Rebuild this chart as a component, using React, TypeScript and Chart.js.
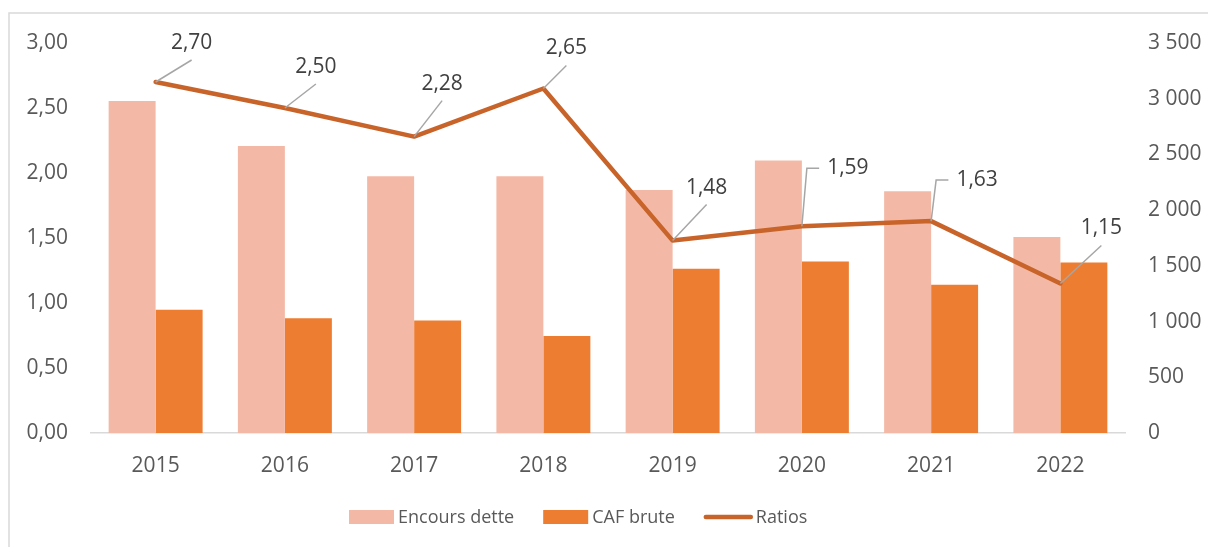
import React, { useEffect, useRef } from 'react';
import { Chart, registerables } from 'chart.js';

Chart.register(...registerables);

const YEARS = ['2015', '2016', '2017', '2018', '2019', '2020', '2021', '2022'];
const ENCOURS_DETTE = [2980, 2575, 2305, 2305, 2180, 2445, 2170, 1760];
const CAF_BRUTE = [1105, 1030, 1010, 870, 1475, 1540, 1330, 1530];
const RATIOS = [2.7, 2.5, 2.28, 2.65, 1.48, 1.59, 1.63, 1.15];

const LEFT_MAX = 3;
const LEFT_STEP = 0.5;
const RIGHT_MAX = 3500;
const RIGHT_STEP = 500;

const SERIES_NAMES = ['Encours dette', 'CAF brute', 'Ratios'];

// label centre offsets relative to each ratio point, and callout style
const LABEL_OFFSETS: [number, number][] = [
  [36, -39], [31, -41], [28, -53], [23, -40], [34, -53], [46, -58], [46, -41], [41, -55],
];
const LABEL_ELBOW = [false, false, false, false, false, true, true, false];

const COLOR_DETTE = '#f4b9a6';
const COLOR_CAF = '#ed7d31';
const COLOR_LINE = '#c8642a';
const TEXT = '#595959';
const FONT = "'Open Sans', sans-serif";

const fmtLeft = (v: number) => v.toFixed(2).replace('.', ',');
const fmtRight = (v: number) => {
  const s = Math.round(v).toString();
  return s.replace(/\B(?=(\d{3})+(?!\d))/g, ' ');
};

const framePlugin = {
  id: 'frame',
  beforeDraw(chart: any) {
    const ctx = chart.ctx;
    ctx.save();
    ctx.strokeStyle = '#d9d9d9';
    ctx.lineWidth = 1.5;
    ctx.beginPath();
    ctx.moveTo(9, 600);
    ctx.lineTo(9, 13);
    ctx.lineTo(1300, 13);
    ctx.stroke();
    ctx.restore();
  },
};

const labelsPlugin = {
  id: 'ratioLabels',
  afterDatasetsDraw(chart: any) {
    const ctx = chart.ctx;
    const meta = chart.getDatasetMeta(2);
    ctx.save();
    ctx.font = `21px ${FONT}`;
    ctx.textAlign = 'center';
    ctx.textBaseline = 'middle';
    meta.data.forEach((pt: any, i: number) => {
      const [dx, dy] = LABEL_OFFSETS[i];
      const lx = pt.x + dx;
      const ly = pt.y + dy;
      const text = fmtLeft(RATIOS[i]);
      const w = ctx.measureText(text).width;
      ctx.strokeStyle = '#a6a6a6';
      ctx.lineWidth = 1.5;
      ctx.beginPath();
      if (LABEL_ELBOW[i]) {
        const left = lx - w / 2;
        ctx.moveTo(pt.x, pt.y);
        ctx.lineTo(pt.x + 5, ly);
        ctx.lineTo(left - 8, ly);
      } else {
        ctx.moveTo(pt.x, pt.y);
        ctx.lineTo(lx, ly + 17);
      }
      ctx.stroke();
      ctx.fillStyle = '#404040';
      ctx.fillText(text, lx, ly);
    });
    ctx.restore();
  },
};

const legendPlugin = {
  id: 'customLegend',
  afterDraw(chart: any) {
    const ctx = chart.ctx;
    ctx.save();
    ctx.font = `18px ${FONT}`;
    ctx.textBaseline = 'middle';
    ctx.textAlign = 'left';
    const cy = 517;
    let x = 349;
    const colors = [COLOR_DETTE, COLOR_CAF, COLOR_LINE];
    SERIES_NAMES.forEach((name, i) => {
      if (i < 2) {
        ctx.fillStyle = colors[i];
        ctx.fillRect(x, cy - 7, 45, 14);
        x += 49;
      } else {
        ctx.strokeStyle = colors[i];
        ctx.lineWidth = 4.5;
        ctx.lineCap = 'round';
        ctx.beginPath();
        ctx.moveTo(x + 2, cy);
        ctx.lineTo(x + 47, cy);
        ctx.stroke();
        x += 52;
      }
      ctx.fillStyle = TEXT;
      ctx.fillText(name, x, cy + 1);
      x += ctx.measureText(name).width + 29;
    });
    ctx.restore();
  },
};

export default function App() {
  const ref = useRef<HTMLCanvasElement | null>(null);

  useEffect(() => {
    if (!ref.current) return;
    Chart.defaults.font.family = FONT;
    Chart.defaults.color = TEXT;
    const chart = new Chart(ref.current, {
      type: 'bar',
      data: {
        labels: YEARS,
        datasets: [
          {
            type: 'bar',
            label: SERIES_NAMES[0],
            data: ENCOURS_DETTE,
            backgroundColor: COLOR_DETTE,
            yAxisID: 'y1',
            order: 2,
            categoryPercentage: 0.727,
            barPercentage: 1,
          },
          {
            type: 'bar',
            label: SERIES_NAMES[1],
            data: CAF_BRUTE,
            backgroundColor: COLOR_CAF,
            yAxisID: 'y1',
            order: 2,
            categoryPercentage: 0.727,
            barPercentage: 1,
          },
          {
            type: 'line',
            label: SERIES_NAMES[2],
            data: RATIOS,
            borderColor: COLOR_LINE,
            backgroundColor: COLOR_LINE,
            borderWidth: 4.5,
            borderCapStyle: 'round',
            borderJoinStyle: 'round',
            pointRadius: 0,
            yAxisID: 'y',
            order: 0,
          } as any,
        ],
      },
      options: {
        responsive: false,
        animation: false,
        devicePixelRatio: 1,
        layout: { padding: { top: 43, left: 0, right: 0, bottom: 0 } },
        plugins: {
          legend: { display: false },
          tooltip: { enabled: false },
        },
        scales: {
          x: {
            offset: true,
            grid: { display: false, drawTicks: false },
            border: { display: true, color: '#d9d9d9', width: 1.5 },
            ticks: { font: { size: 21, family: FONT }, color: TEXT, padding: 20 },
            afterFit: (s: any) => { s.height = 114; },
          },
          y: {
            position: 'left',
            min: 0,
            max: LEFT_MAX,
            grid: { display: false, drawTicks: false },
            border: { display: false },
            ticks: {
              stepSize: LEFT_STEP,
              padding: 23,
              font: { size: 21, family: FONT },
              color: TEXT,
              callback: (v: any) => fmtLeft(Number(v)),
            },
            afterFit: (s: any) => { s.width = 91; },
          },
          y1: {
            position: 'right',
            min: 0,
            max: RIGHT_MAX,
            grid: { display: false, drawTicks: false },
            border: { display: false },
            ticks: {
              stepSize: RIGHT_STEP,
              padding: 23,
              font: { size: 21, family: FONT },
              color: TEXT,
              callback: (v: any) => fmtRight(Number(v)),
            },
            afterFit: (s: any) => { s.width = 83; },
          },
        },
      } as any,
      plugins: [framePlugin, labelsPlugin, legendPlugin],
    });
    return () => chart.destroy();
  }, []);

  return (
    <div style={{ position: 'absolute', left: 0, top: 0, width: 1208, height: 547, background: '#fff' }}>
      <canvas ref={ref} width={1208} height={547} style={{ display: 'block' }} />
    </div>
  );
}
